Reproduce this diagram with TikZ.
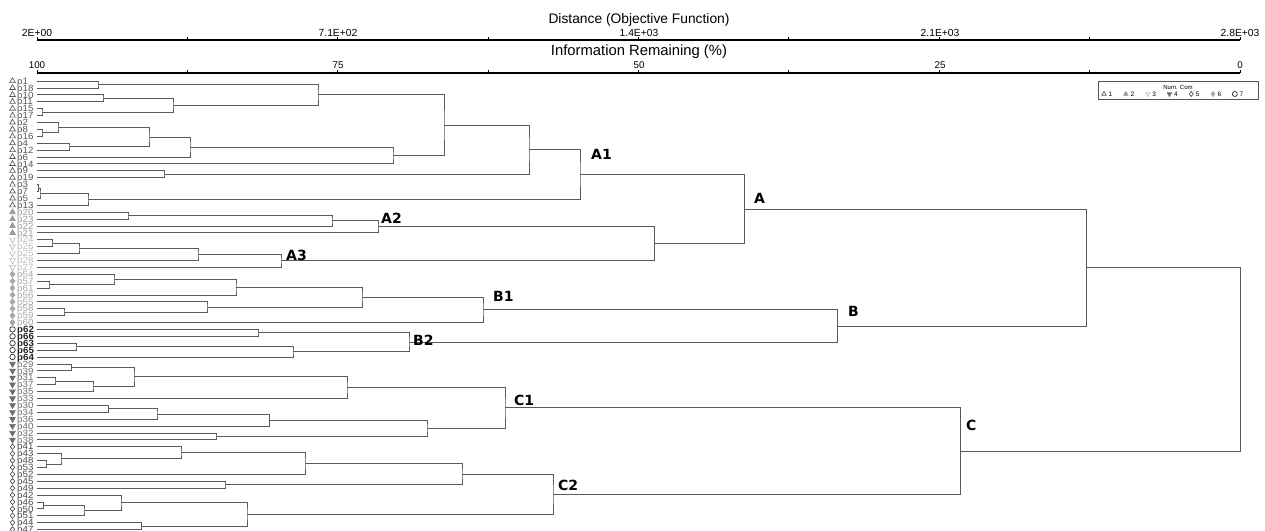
\documentclass[tikz,border=0pt]{standalone}
\usepackage{fontspec}
\setmainfont{Liberation Sans}
\newfontfamily\leaffont[FakeStretch=1.08]{Liberation Sans}
\newfontfamily\clusterfont{DejaVu Sans}
\usetikzlibrary{shapes.geometric,calc}
\definecolor{c1}{HTML}{555555}
\definecolor{c2}{HTML}{9A9A9A}
\definecolor{c3}{HTML}{BDBDBD}
\definecolor{c4}{HTML}{6E6E6E}
\definecolor{c5}{HTML}{4A4A4A}
\definecolor{c6}{HTML}{A8A8A8}
\definecolor{c7}{HTML}{222222}
\definecolor{treec}{HTML}{5A5A5A}
\newcommand\lfsize{\fontsize{9}{9}\selectfont}
\newcommand\mrg[4]{%
  \path let \p1=($(#3)!0.5!(#4)$) in coordinate (#1) at (#2pt,\y1);
  \draw[tree] (#3) -| (#1) |- (#4);}
\tikzset{
  tree/.style={draw=treec,line width=0.8pt},
  axisline/.style={draw=black,line width=1.3pt},
  ticklab/.style={font=\fontsize{10.3}{10.3}\selectfont,inner sep=0pt},
  infolab/.style={font=\fontsize{9.8}{9.8}\selectfont,inner sep=0pt},
  titlelab/.style={font=\fontsize{13.8}{13.8}\selectfont,inner sep=0pt},
  clab/.style={font=\clusterfont\bfseries\fontsize{14}{14}\selectfont,anchor=west,inner sep=0pt,text=black},
  leaflab/.style={anchor=base west,inner sep=0pt,font=\leaffont\lfsize},
  g1/.style={text=c1}, g2/.style={text=c2}, g3/.style={text=c3},
  g4/.style={text=c4}, g5/.style={text=c5}, g6/.style={text=c6},
  g7/.style={text=c7,font=\leaffont\bfseries\lfsize},
  mkbase/.style={inner sep=0pt,outer sep=0pt,line width=0.65pt},
  mk1/.style={mkbase,regular polygon,regular polygon sides=3,minimum size=6.5pt,draw=c1},
  mk2/.style={mkbase,regular polygon,regular polygon sides=3,minimum size=6.5pt,draw=c2,fill=c2},
  mk3/.style={mkbase,regular polygon,regular polygon sides=3,shape border rotate=180,minimum size=6.5pt,draw=c3},
  mk4/.style={mkbase,regular polygon,regular polygon sides=3,shape border rotate=180,minimum size=6.5pt,draw=c4,fill=c4},
  mk5/.style={mkbase,diamond,minimum width=4.5pt,minimum height=5.5pt,draw=c5},
  mk6/.style={mkbase,diamond,minimum width=5pt,minimum height=6pt,draw=c6,fill=c6},
  mk7/.style={mkbase,circle,minimum size=5.5pt,draw=c7},
  legtxt/.style={font=\fontsize{6.5}{6.5}\selectfont,inner sep=0pt,anchor=west}
}
\begin{document}
\begin{tikzpicture}[x=1pt,y=-1pt]
\useasboundingbox[fill=white] (0,0) rectangle (1265,530);
% axes
\node[titlelab] (t1) at (639,20) {Distance (Objective Function)};
\node[titlelab,font=\fontsize{14.8}{14.8}\selectfont] (t2) at (639,52) {Information Remaining (\%)};
\draw[axisline] (37,40) -- (1240,40);
\draw[axisline] (37,73) -- (1240,73);
\foreach \k in {0,...,8}{
  \draw[line width=1pt] ({37+150.375*\k},40) -- ++(0,-3);
  \draw[line width=1pt] ({37+150.375*\k},73) -- ++(0,-3);
}
\node[ticklab] (d0) at (37,32.5) {2E+00};
\node[ticklab] (d1) at (338,32.5) {7.1E+02};
\node[ticklab] (d2) at (639,32.5) {1.4E+03};
\node[ticklab] (d3) at (940,32.5) {2.1E+03};
\node[ticklab] (d4) at (1240,32.5) {2.8E+03};
\node[infolab] (i0) at (37,65) {100};
\node[infolab] (i1) at (338,65) {75};
\node[infolab] (i2) at (639,65) {50};
\node[infolab] (i3) at (940,65) {25};
\node[infolab] (i4) at (1240,65) {0};
% legend
\draw[draw=c1,line width=0.6pt] (1098,81) rectangle (1258,99);
\node[font=\fontsize{6}{6}\selectfont,inner sep=0pt] (lgt) at (1178,87) {Num. Com};
\foreach \g [count=\j from 0] in {1,...,7}{
  \node[mk\g,minimum size=5pt,minimum width=4pt,minimum height=5pt] (lm\g) at ({1104+21.8*\j},94) {};
  \node[legtxt] (ln\g) at ({1108.5+21.8*\j},94) {\g};
}
% leaves
\foreach \n/\g [count=\i from 0] in {1/1,18/1,10/1,11/1,15/1,17/1,2/1,8/1,16/1,4/1,12/1,6/1,14/1,9/1,19/1,3/1,7/1,5/1,13/1,20/2,23/2,22/2,21/2,24/3,26/3,25/3,28/3,27/3,54/6,57/6,61/6,56/6,55/6,58/6,59/6,60/6,62/7,66/7,63/7,65/7,64/7,29/4,39/4,31/4,37/4,35/4,33/4,30/4,34/4,36/4,40/4,32/4,38/4,41/5,43/5,48/5,53/5,52/5,45/5,49/5,42/5,46/5,50/5,51/5,44/5,47/5}{
  \coordinate (p\n) at (37,{81+6.9*\i});
  \node[leaflab,g\g] (t\n) at (17,{84.2+6.9*\i}) {p\n};
  \node[mk\g] (k\n) at (12.5,{81+6.9*\i}) {};
}
% A1
\mrg{m1}{98}{p1}{p18}
\mrg{m2}{103}{p10}{p11}
\mrg{m3}{42}{p15}{p17}
\mrg{m4}{173}{m2}{m3}
\mrg{m5}{318}{m1}{m4}
\mrg{m6}{42}{p8}{p16}
\mrg{m7}{58}{p2}{m6}
\mrg{m8}{69}{p4}{p12}
\mrg{m9}{149}{m7}{m8}
\mrg{m10}{190}{m9}{p6}
\mrg{m11}{393}{m10}{p14}
\mrg{m12}{444}{m5}{m11}
\mrg{m13}{164}{p9}{p19}
\mrg{m14}{529}{m12}{m13}
\mrg{m15}{38.5}{p3}{p7}
\mrg{m16}{40}{m15}{p5}
\mrg{m17}{88}{m16}{p13}
\mrg{A1}{580}{m14}{m17}
% A2, A3
\mrg{m18}{128}{p20}{p23}
\mrg{m19}{332}{m18}{p22}
\mrg{A2}{378}{m19}{p21}
\mrg{m20}{52}{p24}{p26}
\mrg{m21}{79}{m20}{p25}
\mrg{m22}{198}{m21}{p28}
\mrg{A3}{281}{m22}{p27}
\mrg{m23}{654}{A2}{A3}
\mrg{A}{744}{A1}{m23}
% B
\mrg{m24}{49}{p57}{p61}
\mrg{m25}{114}{p54}{m24}
\mrg{m26}{236}{m25}{p56}
\mrg{m27}{64}{p58}{p59}
\mrg{m28}{207}{p55}{m27}
\mrg{m29}{362}{m26}{m28}
\mrg{B1}{483}{m29}{p60}
\mrg{m30}{258}{p62}{p66}
\mrg{m31}{76}{p63}{p65}
\mrg{m32}{293}{m31}{p64}
\mrg{B2}{409}{m30}{m32}
\mrg{B}{837}{B1}{B2}
\mrg{AB}{1086}{A}{B}
% C1
\mrg{m33}{71.5}{p29}{p39}
\mrg{m34}{55}{p31}{p37}
\mrg{m35}{93}{m34}{p35}
\mrg{m36}{134}{m33}{m35}
\mrg{m37}{347}{m36}{p33}
\mrg{m38}{108.5}{p30}{p34}
\mrg{m39}{157}{m38}{p36}
\mrg{m40}{269.5}{m39}{p40}
\mrg{m41}{216}{p32}{p38}
\mrg{m42}{427}{m40}{m41}
\mrg{C1}{505}{m37}{m42}
% C2
\mrg{m43}{46}{p48}{p53}
\mrg{m44}{61}{p43}{m43}
\mrg{m45}{181}{p41}{m44}
\mrg{m46}{305}{m45}{p52}
\mrg{m47}{225}{p45}{p49}
\mrg{m48}{462}{m46}{m47}
\mrg{m49}{43.5}{p46}{p50}
\mrg{m50}{84}{m49}{p51}
\mrg{m51}{121}{p42}{m50}
\mrg{m52}{141.5}{p44}{p47}
\mrg{m53}{247}{m51}{m52}
\mrg{C2}{553}{m48}{m53}
\mrg{C}{960}{C1}{C2}
\mrg{root}{1240}{AB}{C}
% cluster labels
\node[clab] (lA1) at (591,154) {A1};
\node[clab] (lA) at (754,198) {A};
\node[clab] (lA2) at (381,218) {A2};
\node[clab] (lA3) at (286,255) {A3};
\node[clab] (lB1) at (493,296) {B1};
\node[clab] (lB) at (848,311) {B};
\node[clab] (lB2) at (413,340) {B2};
\node[clab] (lC1) at (514,400) {C1};
\node[clab] (lC) at (966,425) {C};
\node[clab] (lC2) at (558,485) {C2};
\end{tikzpicture}
\end{document}
